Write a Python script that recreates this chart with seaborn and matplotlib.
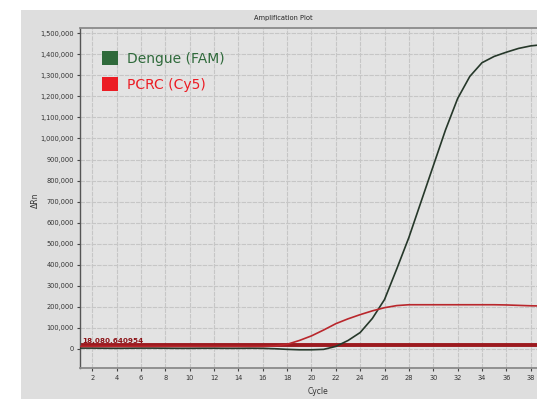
import matplotlib
matplotlib.use("Agg")
import matplotlib.pyplot as plt
from matplotlib.patches import Patch, Rectangle
import pandas as pd
import seaborn as sns

# data
cycles = list(range(1, 40))
dengue_fam = [4000, 4000, 3500, 3000, 3500, 4000, 4000, 3500, 3000, 3000,
              3500, 3500, 3000, 3000, 3500, 3000, 1000, -2000, -4000, -4000,
              -2000, 12000, 40000, 78000, 145000, 235000, 380000, 530000, 700000, 870000,
              1040000, 1190000, 1295000, 1360000, 1390000, 1410000, 1428000, 1440000, 1446000]
pcrc_cy5 = [12000, 12000, 12000, 12000, 12000, 12000, 12000, 12000, 12000, 12000,
            12000, 12000, 12000, 12000, 12000, 12000, 14000, 22000, 40000, 62000,
            90000, 120000, 143000, 163000, 181000, 196000, 206000, 210000, 210000, 210000,
            210000, 210000, 210000, 210000, 210000, 209000, 207000, 205000, 204000]
threshold = 18080.640954
threshold_label = "18,080.640954"

series_names = ["Dengue (FAM)", "PCRC (Cy5)"]
line_colors = ["#26382a", "#b9272c"]
legend_colors = ["#2f6a3b", "#ec1c24"]
x_ticks = list(range(2, 40, 2))
y_ticks = list(range(0, 1500001, 100000))

df = pd.DataFrame({
    "Cycle": cycles * 2,
    "dRn": dengue_fam + pcrc_cy5,
    "series": [series_names[0]] * len(cycles) + [series_names[1]] * len(cycles),
})

fig = plt.figure(figsize=(5.37, 3.99), dpi=100)
fig.patch.set_facecolor("white")
fig.patches.append(Rectangle((21 / 537, 0), 1, 1 - 10 / 399, transform=fig.transFigure,
                             facecolor="#dedede", edgecolor="none", zorder=-10))

ax = fig.add_axes([80 / 537, 1 - 368.3 / 399, (549 - 80) / 537, (368.3 - 28) / 399])
ax.set_facecolor("#e3e3e3")

ax.axhline(threshold, color="#9c1a1f", lw=2.8, zorder=1)
sns.lineplot(data=df, x="Cycle", y="dRn", hue="series", palette=line_colors,
             linewidth=1.2, legend=False, ax=ax, zorder=3)

ax.set_xlim(1, 39.5)
ax.set_ylim(-92000, 1525000)
ax.set_xticks(x_ticks)
ax.set_xticklabels([str(t) for t in x_ticks], fontsize=4.8, color="#333333")
ax.set_yticks(y_ticks)
ax.set_yticklabels([f"{t:,}" for t in y_ticks], fontsize=4.8, color="#333333")
ax.tick_params(axis="both", length=2.5, width=0.8, color="#444444", pad=2)
ax.grid(True, color="#c6c6c6", lw=0.8, ls=(0, (4, 1)))
ax.set_axisbelow(True)
ax.set_xlabel("")
ax.set_ylabel("")

for side in ["top", "bottom"]:
    ax.spines[side].set_color("#8a8a8a")
    ax.spines[side].set_linewidth(1.3)
ax.spines["left"].set_color("#555555")
ax.spines["left"].set_linewidth(1.0)
ax.spines["right"].set_visible(False)

ax.text(1.15, threshold + 5000, threshold_label, fontsize=5.2, color="#8c1418",
        fontweight="bold", va="bottom", ha="left", zorder=4)

handles = [Patch(facecolor=c, edgecolor="none") for c in legend_colors]
leg = ax.legend(handles, series_names, loc="upper left", bbox_to_anchor=(0.02, 0.968),
                frameon=False, fontsize=10, handlelength=1.15, handleheight=1.15,
                handletextpad=0.65, labelspacing=0.8, labelcolor=legend_colors)

fig.text(283 / 537, 1 - 18 / 399, "Amplification Plot", fontsize=4.8,
         ha="center", va="center", color="#222222")
fig.text(318 / 537, 1 - 392 / 399, "Cycle", fontsize=5.5, ha="center",
         va="center", color="#333333")
fig.text(35 / 537, 1 - 200 / 399, "ΔRn", fontsize=5.5, ha="center",
         va="center", rotation=90, color="#333333")

fig.savefig("out.png", dpi=100)
